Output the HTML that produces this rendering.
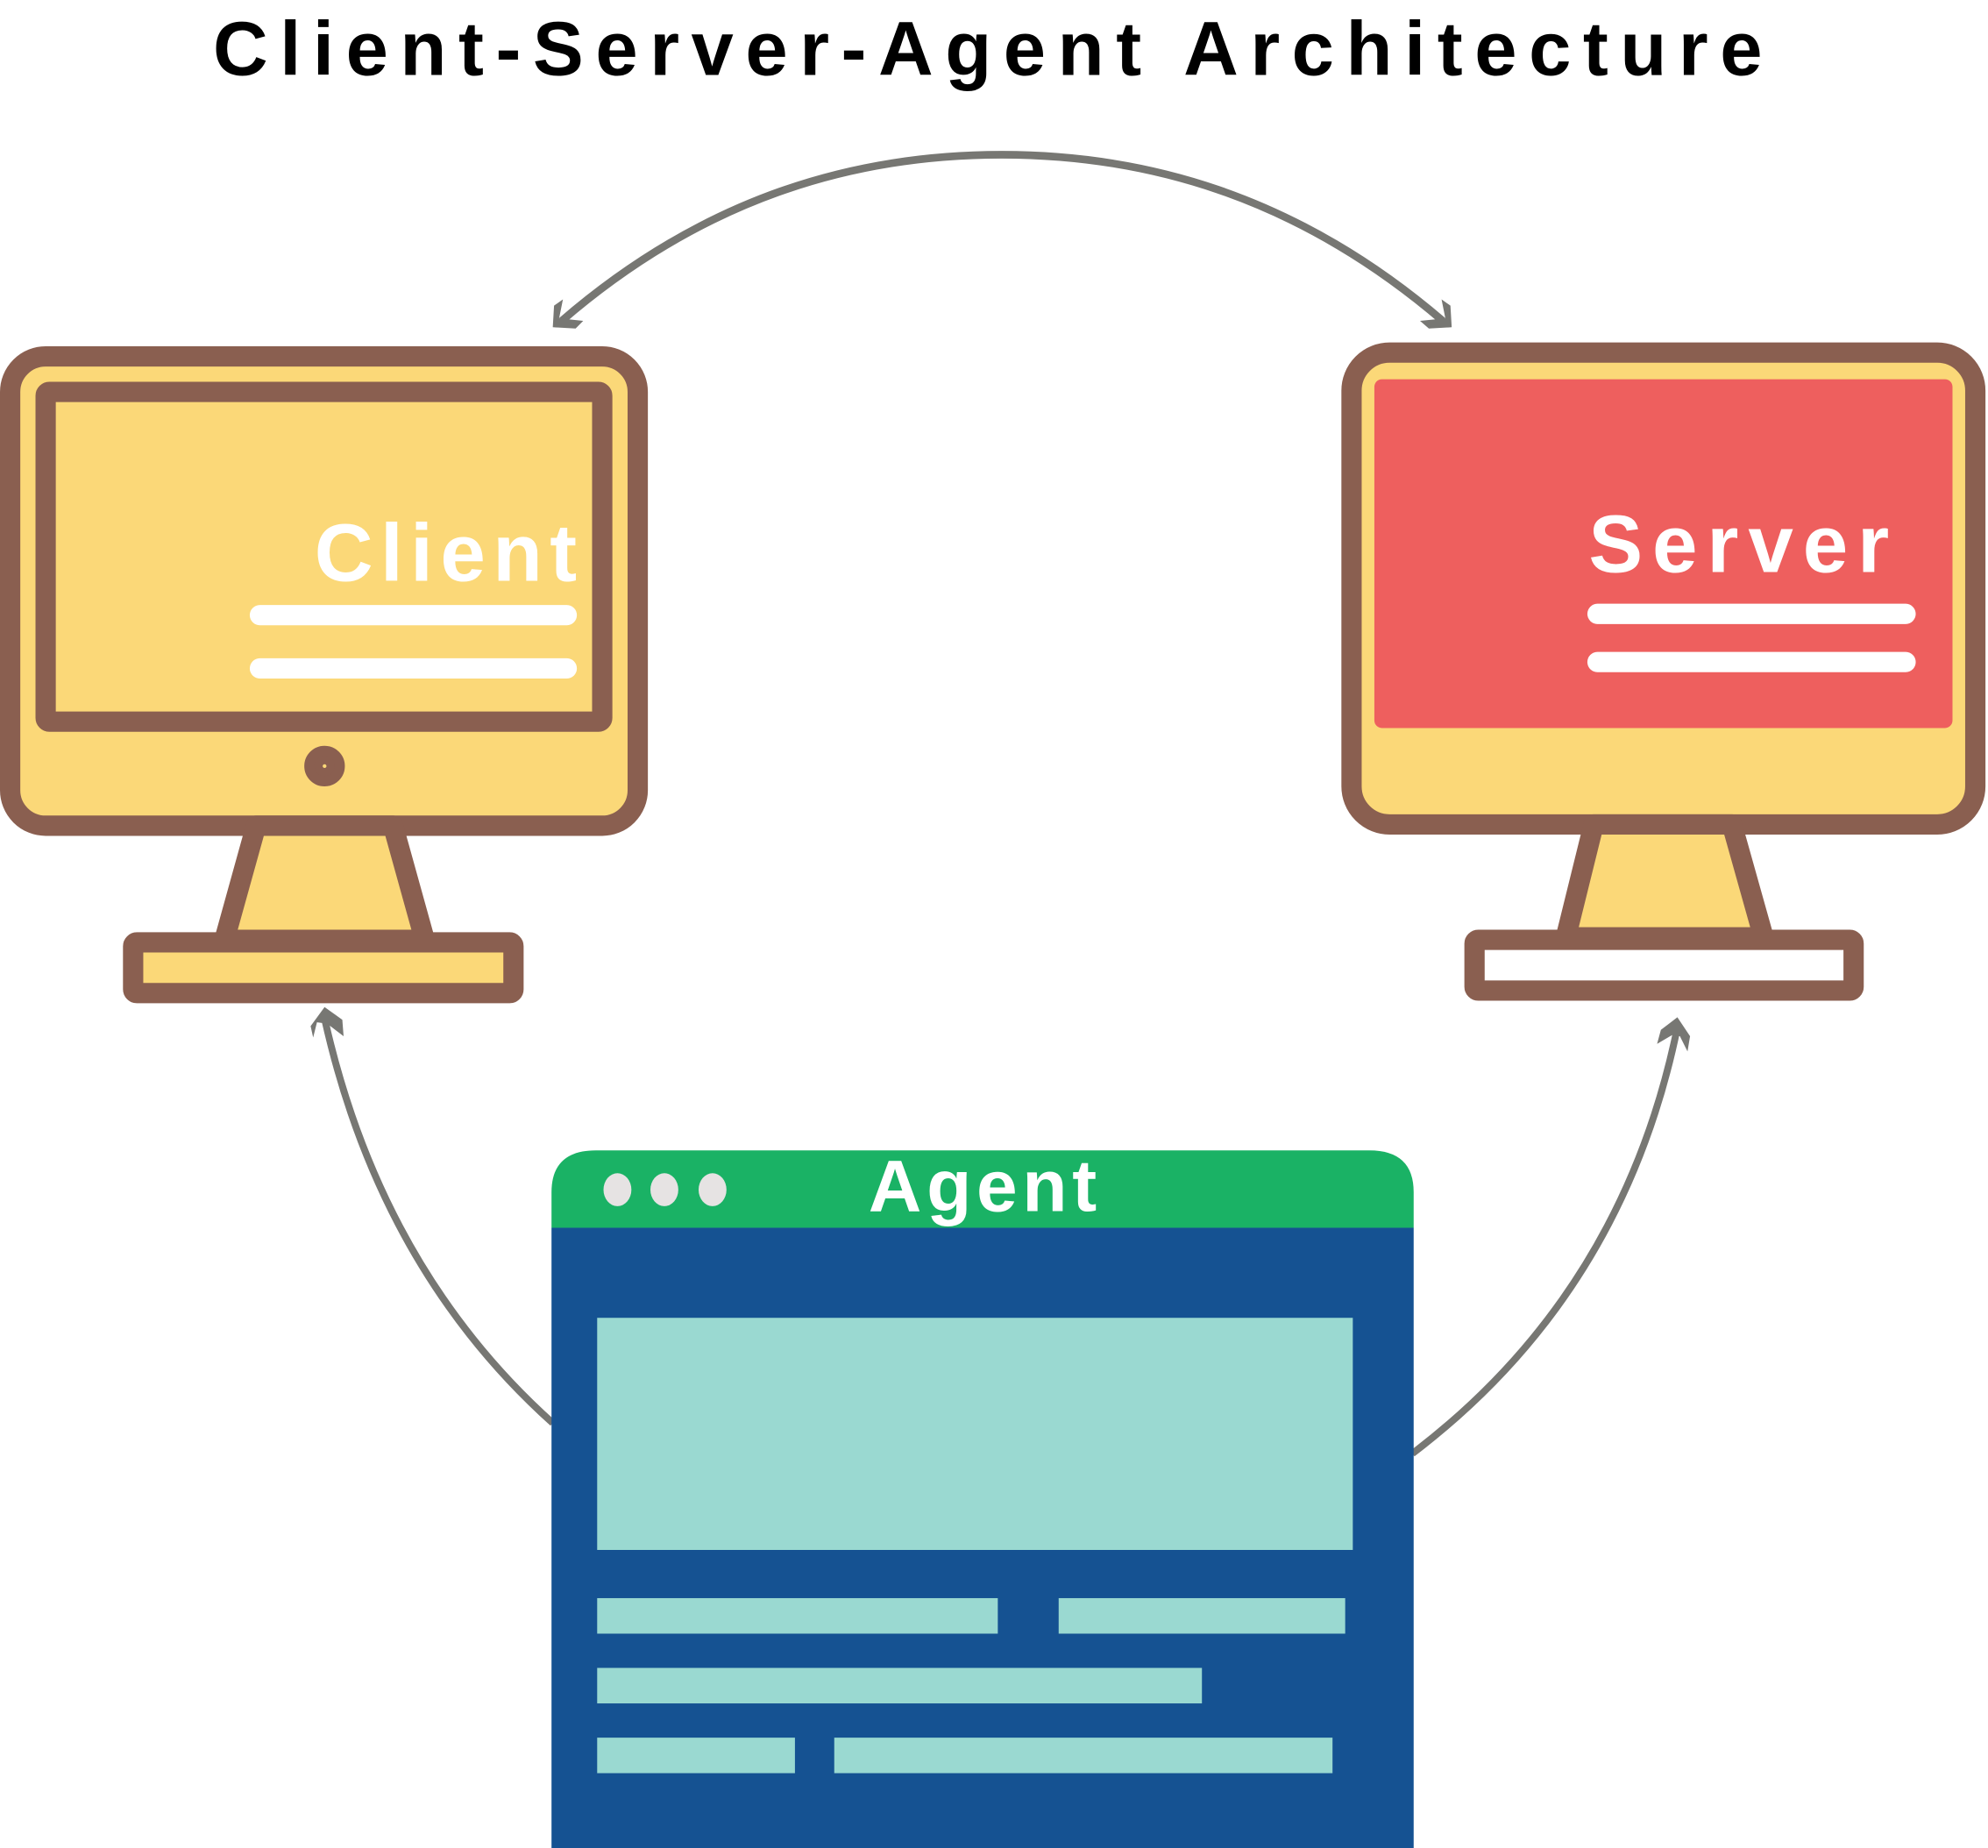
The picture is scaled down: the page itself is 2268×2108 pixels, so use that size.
<!DOCTYPE html>
<html><head><meta charset="utf-8"><style>html,body{margin:0;padding:0;background:#fff}svg{display:block}</style></head>
<body>
<svg width="2268" height="2108" viewBox="0 0 1568 1457" preserveAspectRatio="none" xmlns="http://www.w3.org/2000/svg">
<text x="168" y="59" font-family="Liberation Sans, sans-serif" font-weight="bold" font-size="60" fill="#000" textLength="1222" lengthAdjust="spacing">Client-Server-Agent Architecture</text>

<!-- top arc -->
<path d="M443,253 C560,152 680,122 790,122 C900,122 1020,152 1138,253" fill="none" stroke="#777773" stroke-width="6"/>
<path d="M436,258 L437,241 L444,236 L441,251 L460,253 L454,259 Z" fill="#777773"/>
<path d="M1145,258 L1144,241 L1137,236 L1140,251 L1120,253 L1127,259 Z" fill="#777773"/>

<!-- client monitor -->
<rect x="8" y="281" width="495" height="370" rx="28" fill="#FBD878" stroke="#8A5F50" stroke-width="16"/>
<rect x="36" y="309" width="439" height="260" rx="3" fill="#FBD878" stroke="#8A5F50" stroke-width="16"/>
<text x="248" y="458" font-family="Liberation Sans, sans-serif" font-weight="bold" font-size="64" fill="#fff" textLength="207" lengthAdjust="spacing">Client</text>
<line x1="205" y1="485" x2="447" y2="485" stroke="#fff" stroke-width="16" stroke-linecap="round"/>
<line x1="205" y1="527" x2="447" y2="527" stroke="#fff" stroke-width="16" stroke-linecap="round"/>
<circle cx="256" cy="604" r="12" fill="#8A5F50" stroke="#8A5F50" stroke-width="8"/>
<circle cx="256" cy="604" r="1.5" fill="#FBD878"/>
<polygon points="202,651 310,651 335,741 177,741" fill="#FBD878" stroke="#8A5F50" stroke-width="16" stroke-linejoin="round"/>
<rect x="105" y="743" width="300" height="40" rx="3" fill="#FBD878" stroke="#8A5F50" stroke-width="16"/>

<!-- server monitor -->
<rect x="1066" y="278" width="492" height="372" rx="30" fill="#FBD878" stroke="#8A5F50" stroke-width="16"/>
<rect x="1084" y="299" width="456" height="275" rx="6" fill="#EE5F5E"/>
<text x="1253" y="451" font-family="Liberation Sans, sans-serif" font-weight="bold" font-size="64" fill="#fff" textLength="237" lengthAdjust="spacing">Server</text>
<line x1="1260" y1="484" x2="1503" y2="484" stroke="#fff" stroke-width="16" stroke-linecap="round"/>
<line x1="1260" y1="522" x2="1503" y2="522" stroke="#fff" stroke-width="16" stroke-linecap="round"/>
<polygon points="1257,650 1366,650 1391,739 1235,739" fill="#FBD878" stroke="#8A5F50" stroke-width="16" stroke-linejoin="round"/>
<rect x="1163" y="741" width="299" height="40" rx="3" fill="#fff" stroke="#8A5F50" stroke-width="16"/>

<!-- bottom arrows -->
<path d="M436,1122 Q300,1000 256,803" fill="none" stroke="#777773" stroke-width="5.5"/>
<path d="M256,794 L270,804 L271,817 L258,807 L250,806 L247,818 L245,809 Z" fill="#777773"/>
<path d="M1114,1146 Q1280,1020 1323,810" fill="none" stroke="#777773" stroke-width="5.5"/>
<path d="M1323,802 L1333,817 L1331,829 L1325,817 L1319,816 L1307,823 L1310,812 Z" fill="#777773"/>

<!-- agent -->
<path d="M435,968 L435,940 Q435,907 470,907 L1080,907 Q1115,907 1115,940 L1115,968 Z" fill="#1AB265"/>
<rect x="435" y="968" width="680" height="489" fill="#155292"/>
<ellipse cx="487" cy="938" rx="11" ry="13" fill="#E6E3E3"/>
<ellipse cx="524" cy="938" rx="11" ry="13" fill="#E6E3E3"/>
<ellipse cx="562" cy="938" rx="11" ry="13" fill="#E6E3E3"/>
<text x="685" y="955" font-family="Liberation Sans, sans-serif" font-weight="bold" font-size="58" fill="#fff" textLength="180" lengthAdjust="spacing">Agent</text>
<g fill="#9AD9D1">
<rect x="471" y="1039" width="596" height="183"/>
<rect x="471" y="1260" width="316" height="28"/>
<rect x="835" y="1260" width="226" height="28"/>
<rect x="471" y="1315" width="477" height="28"/>
<rect x="471" y="1370" width="156" height="28"/>
<rect x="658" y="1370" width="393" height="28"/>
</g>
</svg>
</body></html>
